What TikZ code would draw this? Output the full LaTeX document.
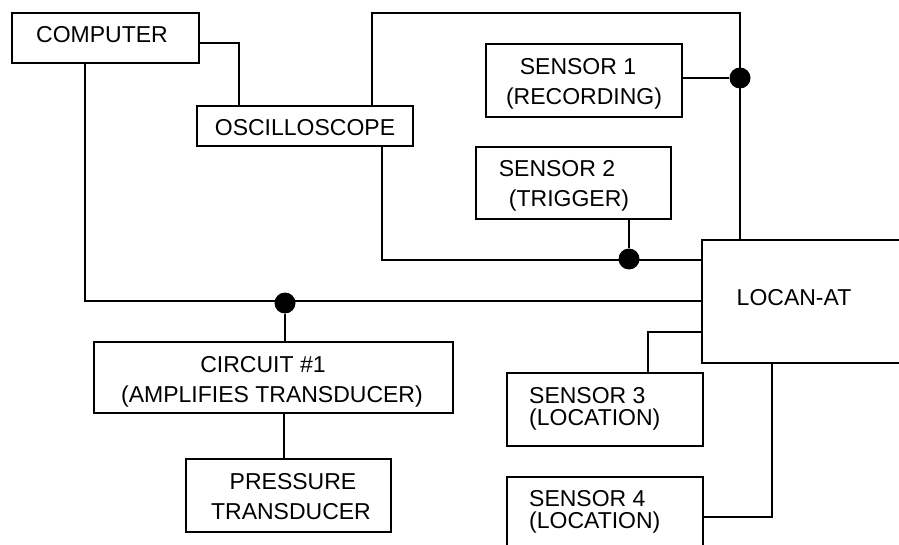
\documentclass[tikz,border=0pt]{standalone}
\usepackage{fontspec}
\setmainfont{Liberation Sans}
\begin{document}
\begin{tikzpicture}[x=1pt,y=-1pt,
  box/.style={draw,line width=1.5pt,inner sep=0pt},
  wire/.style={line width=1.5pt},
  lbl/.style={inner sep=0pt,font=\fontsize{23}{26}\selectfont},
  dot/.style={circle,fill=black,inner sep=0pt,minimum size=21pt}]
\clip (0,0) rectangle (899,545);
\fill[white] (0,0) rectangle (899,545);
% boxes
\node[box,minimum width=187pt,minimum height=50pt] (comp) at (105.5,38) {};
\node[box,minimum width=216pt,minimum height=40pt] (osc) at (305,126) {};
\node[box,minimum width=196pt,minimum height=73pt] (s1) at (584,80.5) {};
\node[box,minimum width=195pt,minimum height=72pt] (s2) at (573.5,183) {};
\node[box,minimum width=208pt,minimum height=123pt] (locan) at (806,301.5) {};
\node[box,minimum width=196pt,minimum height=73pt] (s3) at (605,409.5) {};
\node[box,minimum width=196pt,minimum height=83pt] (s4) at (605,518.5) {};
\node[box,minimum width=359pt,minimum height=71pt] (circ) at (273.5,377.5) {};
\node[box,minimum width=205pt,minimum height=73pt] (press) at (288.5,495.5) {};
% texts
\node[lbl] (tcomp) at (102,35) {COMPUTER};
\node[lbl] (tosc) at (305,128) {OSCILLOSCOPE};
\node[lbl] (ts1a) at (578,67) {SENSOR 1};
\node[lbl] (ts1b) at (584,99) {(RECORDING)};
\node[lbl] (ts2a) at (557,169) {SENSOR 2};
\node[lbl] (ts2b) at (569,201) {(TRIGGER)};
\node[lbl] (tloc) at (794,298) {LOCAN-AT};
\node[lbl,anchor=west] (ts3a) at (529,396) {SENSOR 3};
\node[lbl,anchor=west] (ts3b) at (529,420) {(LOCATION)};
\node[lbl,anchor=west] (ts4a) at (529,499) {SENSOR 4};
\node[lbl,anchor=west] (ts4b) at (529,523) {(LOCATION)};
\node[lbl] (tc1) at (263,365) {CIRCUIT \#1};
\node[lbl] (tc2) at (272,397) {(AMPLIFIES TRANSDUCER)};
\node[lbl] (tp1) at (293,482) {PRESSURE};
\node[lbl] (tp2) at (291,512) {TRANSDUCER};
% routing points
\coordinate (ca) at (239,43);
\coordinate (cx) at (85,301);
\coordinate (tl) at (372,13);
\coordinate (tr) at (740,13);
\coordinate (ob) at (382,260);
\coordinate (c3) at (648,332);
\coordinate (c4) at (772,517);
\coordinate (c5) at (284,0);
% dots
\node[dot] (d1) at (285,303) {};
\node[dot] (d2) at (740,78) {};
\node[dot] (d3) at (629,259) {};
% wires
\draw[wire] (ca -| comp.east) -- (ca) -- (ca |- osc.north);
\draw[wire] (cx |- comp.south) -- (cx) -- (cx -| locan.west);
\draw[wire] (d1) -- (d1 |- circ.north);
\draw[wire] (tl |- osc.north) -- (tl) -- (tr) -- (tr |- locan.north);
\draw[wire] (d2 -| s1.east) -- (d2);
\draw[wire] (ob |- osc.south) -- (ob) -- (ob -| locan.west);
\draw[wire] (d3 |- s2.south) -- (d3);
\draw[wire] (c3 |- s3.north) -- (c3) -- (c3 -| locan.west);
\draw[wire] (c4 -| s4.east) -- (c4) -- (c4 |- locan.south);
\draw[wire] (c5 |- circ.south) -- (c5 |- press.north);
\end{tikzpicture}
\end{document}
